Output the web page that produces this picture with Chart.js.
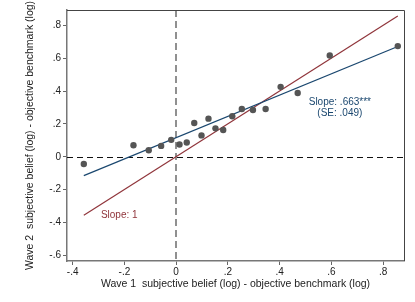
<!DOCTYPE html>
<html lang="en">
<head>
  <meta charset="UTF-8" />
  <title>Wave 1 vs Wave 2 binscatter</title>
  <script src="https://cdn.jsdelivr.net/npm/chart.js@4.4.1/dist/chart.umd.min.js"></script>
  <style>
    html, body {margin: 0; padding: 0; background: #fff;}
    #wrap {width: 415px; height: 302px;}
  </style>
</head>
<body>
  <div id="wrap"><canvas id="myChart" width="415" height="302"></canvas></div>

  <script>
    // binned means (wave 1 on x, wave 2 on y)
    const binX = [-0.357, -0.165, -0.106, -0.058, -0.019, 0.013, 0.041, 0.070, 0.098, 0.125,
                  0.152, 0.182, 0.217, 0.254, 0.297, 0.346, 0.404, 0.470, 0.594, 0.857];
    const binY = [-0.044, 0.070, 0.040, 0.066, 0.103, 0.075, 0.087, 0.206, 0.130, 0.232,
                  0.173, 0.163, 0.247, 0.291, 0.285, 0.291, 0.426, 0.388, 0.617, 0.674];

    // fitted line endpoints and 45-degree line
    const fitX = [-0.357, 0.857];
    const fitY = [-0.115, 0.672];
    const diagX = [-0.357, 0.857];
    const diagY = [-0.357, 0.857];

    const xTicks = [-0.4, -0.2, 0, 0.2, 0.4, 0.6, 0.8];
    const yTicks = [-0.6, -0.4, -0.2, 0, 0.2, 0.4, 0.6, 0.8];

    const NAVY = "#1a476f";
    const MAROON = "#90353b";
    const FONT = "'Liberation Sans', Arial, sans-serif";

    const fmt = v => {
      if (Math.abs(v) < 1e-9) return "0";
      let s = Math.abs(v).toFixed(1).replace(/^0/, "");
      return (v < 0 ? "-" : "") + s;
    };
    const pts = (xs, ys) => xs.map((x, i) => ({x: x, y: ys[i]}));

    // frame, reference lines and annotations
    const decor = {
      id: "decor",
      beforeDatasetsDraw(chart) {
        const {ctx, chartArea: a, scales: {x, y}} = chart;
        ctx.save();
        // y = 0 dashed black
        ctx.strokeStyle = "#111";
        ctx.lineWidth = 1;
        ctx.setLineDash([6, 4]);
        ctx.beginPath();
        ctx.moveTo(a.left, Math.round(y.getPixelForValue(0)) + 0.5);
        ctx.lineTo(a.right, Math.round(y.getPixelForValue(0)) + 0.5);
        ctx.stroke();
        // x = 0 dashed grey
        ctx.strokeStyle = "#909090";
        ctx.lineWidth = 2;
        ctx.setLineDash([7, 4]);
        ctx.beginPath();
        ctx.moveTo(Math.round(x.getPixelForValue(0)), a.top);
        ctx.lineTo(Math.round(x.getPixelForValue(0)), a.bottom);
        ctx.stroke();
        ctx.restore();
      },
      afterDraw(chart) {
        const {ctx, chartArea: a, scales: {x, y}} = chart;
        ctx.save();
        ctx.strokeStyle = "#444";
        ctx.lineWidth = 1;
        ctx.beginPath();
        ctx.moveTo(a.left, a.top + 0.5);
        ctx.lineTo(a.right + 0.5, a.top + 0.5);
        ctx.lineTo(a.right + 0.5, a.bottom);
        ctx.stroke();
        ctx.font = "10px " + FONT;
        ctx.textAlign = "center";
        ctx.textBaseline = "middle";
        ctx.fillStyle = MAROON;
        ctx.fillText("Slope: 1", x.getPixelForValue(-0.22), y.getPixelForValue(-0.354));
        ctx.fillStyle = NAVY;
        ctx.fillText("Slope: .663***", x.getPixelForValue(0.633), y.getPixelForValue(0.33));
        ctx.fillText("(SE: .049)", x.getPixelForValue(0.633), y.getPixelForValue(0.262));
        ctx.restore();
      }
    };

    new Chart(document.getElementById("myChart").getContext("2d"), {
      type: "scatter",
      data: {
        datasets: [
          {
            data: pts(binX, binY),
            backgroundColor: "#555555",
            borderWidth: 0,
            pointRadius: 3.2,
            order: 0
          },
          {
            type: "line",
            data: pts(fitX, fitY),
            borderColor: NAVY,
            borderWidth: 1.2,
            pointRadius: 0,
            fill: false,
            order: 1
          },
          {
            type: "line",
            data: pts(diagX, diagY),
            borderColor: MAROON,
            borderWidth: 1.2,
            pointRadius: 0,
            fill: false,
            order: 2
          }
        ]
      },
      options: {
        responsive: false,
        animation: false,
        layout: {padding: {left: 0, right: 11, top: 10, bottom: 0}},
        plugins: {legend: {display: false}, tooltip: {enabled: false}},
        scales: {
          x: {
            type: "linear",
            min: -0.422,
            max: 0.881,
            afterBuildTicks: s => { s.ticks = xTicks.map(v => ({value: v})); },
            afterFit: s => { s.height = 41; },
            ticks: {
              callback: v => fmt(v),
              color: "#222",
              font: {family: FONT, size: 10},
              padding: 1,
              maxRotation: 0
            },
            grid: {drawOnChartArea: false, tickLength: 4, color: "#666", tickWidth: 1},
            border: {color: "#777", width: 1.5},
            title: {
              display: true,
              text: "Wave 1  subjective belief (log) - objective benchmark (log)",
              color: "#222",
              font: {family: FONT, size: 10.5},
              padding: {top: 0, bottom: 12}
            }
          },
          y: {
            type: "linear",
            min: -0.635,
            max: 0.894,
            afterBuildTicks: s => { s.ticks = yTicks.map(v => ({value: v})); },
            afterFit: s => { s.width = 67; },
            ticks: {
              callback: v => fmt(v),
              color: "#222",
              font: {family: FONT, size: 10},
              padding: 2
            },
            grid: {drawOnChartArea: false, tickLength: 4, color: "#666", tickWidth: 1},
            border: {color: "#777", width: 1.5},
            title: {
              display: true,
              text: "Wave 2  subjective belief (log) - objective benchmark (log)",
              color: "#222",
              font: {family: FONT, size: 10.5},
              padding: {top: 24, bottom: 0}
            }
          }
        }
      },
      plugins: [decor]
    });
  </script>
</body>
</html>
